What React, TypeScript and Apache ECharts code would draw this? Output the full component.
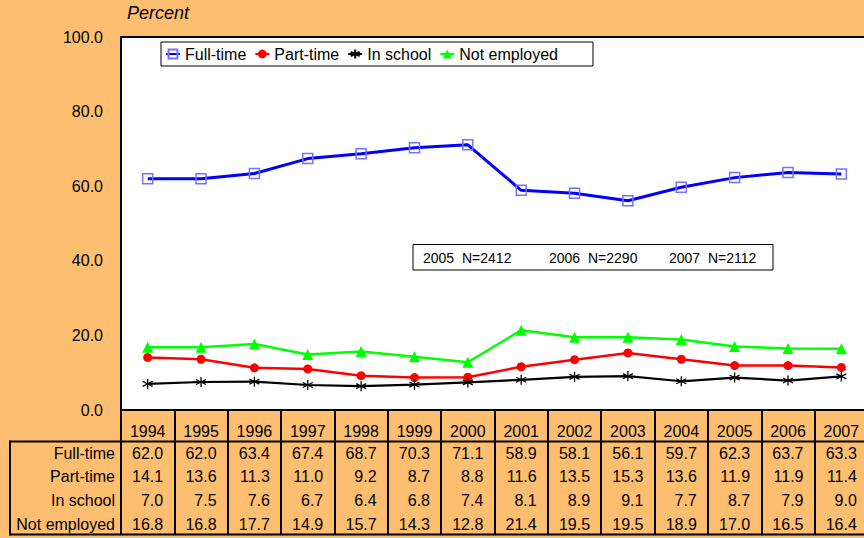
import React, { useEffect, useRef } from "react";
import * as echarts from "echarts";

const years = ["1994", "1995", "1996", "1997", "1998", "1999", "2000", "2001", "2002", "2003", "2004", "2005", "2006", "2007"];
const fullTime = [62.0, 62.0, 63.4, 67.4, 68.7, 70.3, 71.1, 58.9, 58.1, 56.1, 59.7, 62.3, 63.7, 63.3];
const partTime = [14.1, 13.6, 11.3, 11.0, 9.2, 8.7, 8.8, 11.6, 13.5, 15.3, 13.6, 11.9, 11.9, 11.4];
const inSchool = [7.0, 7.5, 7.6, 6.7, 6.4, 6.8, 7.4, 8.1, 8.9, 9.1, 7.7, 8.7, 7.9, 9.0];
const notEmployed = [16.8, 16.8, 17.7, 14.9, 15.7, 14.3, 12.8, 21.4, 19.5, 19.5, 18.9, 17.0, 16.5, 16.4];
const seriesNames = ["Full-time", "Part-time", "In school", "Not employed"];
const yMin = 0;
const yMax = 100;
const yStep = 20;
const sampleYears = ["2005", "2006", "2007"];
const sampleN = ["N=2412", "N=2290", "N=2112"];
const yAxisTitle = "Percent";

const FONT = "'Liberation Sans', Arial, sans-serif";
const BG = "#FDBF6F";

export default function App() {
  const ref = useRef<HTMLDivElement>(null);
  useEffect(() => {
    if (!ref.current) return;
    const chart = echarts.init(ref.current, null, { renderer: "svg" });
    const gridLeft = 121;
    const gridTop = 37;
    const gridH = 373;
    const catW = 53.36;
    const gridBottomY = gridTop + gridH;
    const tableBottom = 534.5;
    const option: any = {
      animation: false,
      backgroundColor: BG,
      textStyle: { fontFamily: FONT },
      grid: {
        left: gridLeft,
        top: gridTop,
        width: catW * years.length,
        height: gridH,
        show: true,
        backgroundColor: "#fff",
        borderColor: "#000",
        borderWidth: 2,
      },
      legend: {
        left: 161,
        top: 42,
        orient: "horizontal",
        data: seriesNames,
        backgroundColor: "#fff",
        borderColor: "#000",
        borderWidth: 1,
        borderRadius: 0,
        padding: [4, 35, 4, 4],
        itemWidth: 14,
        itemHeight: 11,
        itemGap: 8,
        textStyle: { fontSize: 16, color: "#000", fontFamily: FONT },
      },
      xAxis: {
        type: "category",
        data: years,
        boundaryGap: true,
        axisLine: { show: true, lineStyle: { color: "#000", width: 2 } },
        axisTick: { show: true, interval: 0, length: tableBottom - gridBottomY, lineStyle: { color: "#000", width: 2 } },
        axisLabel: { interval: 0, margin: 13, fontSize: 16, color: "#000", fontFamily: FONT },
        splitLine: { show: false },
      },
      yAxis: {
        type: "value",
        min: yMin,
        max: yMax,
        interval: yStep,
        axisLine: { show: true, lineStyle: { color: "#000", width: 2 } },
        axisTick: { show: false },
        splitLine: { show: false },
        axisLabel: {
          margin: 18,
          fontSize: 16,
          color: "#000",
          fontFamily: FONT,
          formatter: (v: number) => v.toFixed(1),
        },
      },
      series: [
        {
          name: seriesNames[0],
          type: "line",
          data: fullTime,
          symbol: "rect",
          symbolSize: 10,
          lineStyle: { color: "#0000FF", width: 3 },
          itemStyle: { color: "rgba(255,255,255,0)", borderColor: "#7373FF", borderWidth: 1.5 },
        },
        {
          name: seriesNames[1],
          type: "line",
          data: partTime,
          symbol: "circle",
          symbolSize: 9,
          lineStyle: { color: "#FF0000", width: 2.5 },
          itemStyle: { color: "#FF0000", borderColor: "#FF0000", borderWidth: 0 },
        },
        {
          name: seriesNames[2],
          type: "line",
          data: inSchool,
          symbol: "path://M5,0L5,10M0.7,2.5L9.3,7.5M0.7,7.5L9.3,2.5",
          symbolSize: 10,
          lineStyle: { color: "#000", width: 2.2 },
          itemStyle: { color: "#000", borderColor: "#000", borderWidth: 1.3 },
        },
        {
          name: seriesNames[3],
          type: "line",
          data: notEmployed,
          symbol: "triangle",
          symbolSize: 11,
          lineStyle: { color: "#00FF00", width: 2.5 },
          itemStyle: { color: "#00FF00", borderColor: "#00FF00", borderWidth: 0 },
        },
      ],
    };
    chart.setOption(option);

    const xs = years.map((_, i) => chart.convertToPixel({ xAxisIndex: 0 }, i) as number);
    const rows = [fullTime, partTime, inSchool, notEmployed];
    const rowY0 = 453;
    const rowStep = 23.7;
    const rightEdge = 880;
    const g: any[] = [];
    g.push({
      type: "text",
      left: 127,
      top: 4,
      style: { text: yAxisTitle, fontSize: 18, fontStyle: "italic", fill: "#000", fontFamily: FONT },
    });
    g.push({ type: "line", shape: { x1: 10, y1: 441.5, x2: rightEdge, y2: 441.5 }, style: { stroke: "#000", lineWidth: 2 } });
    g.push({ type: "line", shape: { x1: 10, y1: tableBottom, x2: rightEdge, y2: tableBottom }, style: { stroke: "#000", lineWidth: 2 } });
    g.push({ type: "line", shape: { x1: 10, y1: 440.5, x2: 10, y2: tableBottom + 1 }, style: { stroke: "#000", lineWidth: 2 } });
    rows.forEach((arr, r) => {
      const y = rowY0 + r * rowStep;
      g.push({
        type: "text",
        x: 115,
        y,
        style: { text: seriesNames[r], fontSize: 16, fill: "#000", align: "right", verticalAlign: "middle", fontFamily: FONT },
      });
      arr.forEach((v, i) => {
        g.push({
          type: "text",
          x: xs[i] + 15.5,
          y,
          style: { text: v.toFixed(1), fontSize: 16, fill: "#000", align: "right", verticalAlign: "middle", fontFamily: FONT },
        });
      });
    });
    // sample-size note box
    g.push({ type: "rect", shape: { x: 413, y: 244.5, width: 360, height: 25.5 }, style: { fill: "#fff", stroke: "#000", lineWidth: 1 } });
    const noteX = [423, 549, 669];
    sampleYears.forEach((yr, i) => {
      g.push({ type: "text", x: noteX[i], y: 258, style: { text: yr, fontSize: 14, fill: "#000", verticalAlign: "middle", fontFamily: FONT } });
      g.push({ type: "text", x: noteX[i] + 39, y: 258, style: { text: sampleN[i], fontSize: 14, fill: "#000", verticalAlign: "middle", fontFamily: FONT } });
    });
    chart.setOption({ graphic: g });
    return () => chart.dispose();
  }, []);
  return <div ref={ref} style={{ position: "fixed", left: 0, top: 0, width: 880, height: 538 }} />;
}
